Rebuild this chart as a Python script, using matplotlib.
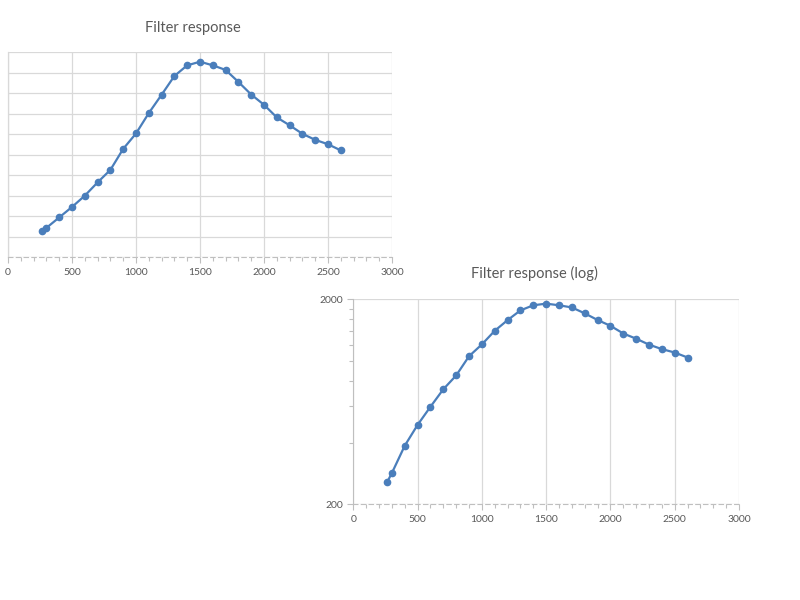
import matplotlib
matplotlib.use("Agg")
import matplotlib.pyplot as plt
from matplotlib.ticker import FixedLocator, NullFormatter, MultipleLocator

plt.rcParams['font.family'] = ['Lato', 'DejaVu Sans']

freq = [265, 300, 400, 500, 600, 700, 800, 900, 1000, 1100, 1200, 1300, 1400,
        1500, 1600, 1700, 1800, 1900, 2000, 2100, 2200, 2300, 2400, 2500, 2600]
response = [258, 284, 386, 488, 598, 728, 850, 1055, 1205, 1404, 1583, 1766, 1870,
            1905, 1870, 1825, 1708, 1585, 1485, 1362, 1285, 1202, 1143, 1100, 1040]
x_ticks = [0, 500, 1000, 1500, 2000, 2500, 3000]
title_lin = "Filter response"
title_log = "Filter response (log)"

W, H = 800, 600
fig = plt.figure(figsize=(8, 6), dpi=100)
fig.patch.set_facecolor('white')

LINE = '#4a7ebb'
GRID = '#d9d9d9'
AXC = '#bfbfbf'
TXT = '#595959'


def px_axes(l, t, r, b):
    return fig.add_axes([l / W, 1 - b / H, (r - l) / W, (b - t) / H])


def style_x(ax):
    ax.set_xlim(0, 3000)
    ax.xaxis.set_major_locator(FixedLocator(x_ticks))
    ax.xaxis.set_minor_locator(MultipleLocator(100))
    ax.tick_params(axis='x', which='both', direction='out', colors=AXC,
                   labelcolor=TXT, labelsize=7.5, pad=4)
    ax.tick_params(axis='x', which='major', length=4, width=0.8)
    ax.tick_params(axis='x', which='minor', length=3, width=0.8)
    ax.spines['bottom'].set_color(AXC)
    ax.spines['bottom'].set_linestyle((0, (4, 3)))
    ax.spines['bottom'].set_linewidth(0.8)
    ax.spines['top'].set_visible(False)
    ax.spines['right'].set_visible(False)
    ax.grid(axis='x', which='major', color=GRID, linewidth=0.9)
    ax.set_axisbelow(True)


# ---- linear chart ----
ax1 = px_axes(8, 52, 392, 257)
ax1.plot(freq, response, color=LINE, linewidth=1.6, marker='o', markersize=4.5,
         markerfacecolor=LINE, markeredgecolor=LINE)
style_x(ax1)
ax1.set_ylim(0, 2000)
ax1.yaxis.set_major_locator(MultipleLocator(200))
ax1.yaxis.set_major_formatter(NullFormatter())
ax1.tick_params(axis='y', which='both', length=0)
ax1.grid(axis='y', which='major', color=GRID, linewidth=0.9)
ax1.spines['left'].set_color(GRID)
ax1.spines['left'].set_linewidth(0.9)
fig.text(193 / W, 1 - 28 / H, title_lin, ha='center', va='center',
         fontsize=10.5, color=TXT)

# ---- log chart ----
ax2 = px_axes(353.3, 299.3, 739, 504.3)
ax2.plot(freq, response, color=LINE, linewidth=1.6, marker='o', markersize=4.5,
         markerfacecolor=LINE, markeredgecolor=LINE)
style_x(ax2)
ax2.set_yscale('log')
ax2.set_ylim(200, 2000)
ax2.yaxis.set_major_locator(FixedLocator([200, 2000]))
ax2.yaxis.set_major_formatter(matplotlib.ticker.FixedFormatter(['200', '2000']))
ax2.yaxis.set_minor_locator(FixedLocator([400, 600, 800, 1000, 1200, 1400, 1600, 1800]))
ax2.yaxis.set_minor_formatter(NullFormatter())
ax2.tick_params(axis='y', which='both', direction='out', colors=AXC,
                labelcolor=TXT, labelsize=7.5, pad=3)
ax2.tick_params(axis='y', which='major', length=4, width=0.8)
ax2.tick_params(axis='y', which='minor', length=3, width=0.8)
ax2.grid(axis='y', which='major', color=GRID, linewidth=0.9)
ax2.spines['left'].set_color(AXC)
ax2.spines['left'].set_linewidth(0.8)
fig.text(534 / W, 1 - 273.3 / H, title_log, ha='center', va='center',
         fontsize=10.5, color=TXT)

fig.savefig('out.png', dpi=100, facecolor='white')
